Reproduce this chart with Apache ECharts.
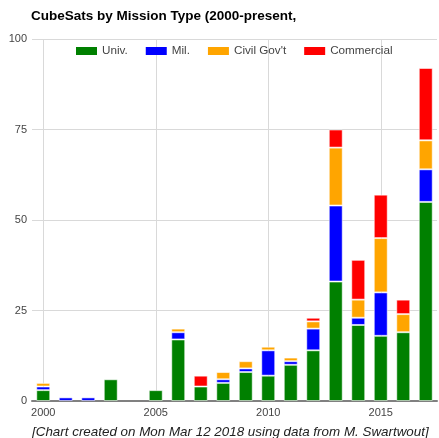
<!DOCTYPE html>
<html>
<head>
<meta charset="utf-8">
<script src="https://cdn.jsdelivr.net/npm/echarts@6/dist/echarts.min.js"></script>
<style>
html,body{margin:0;padding:0;background:#fff;}
#chart{width:439px;height:438px;}
</style>
</head>
<body>
<div id="chart"></div>
<script>
const years = ['2000','2001','2002','2003','2004','2005','2006','2007','2008','2009','2010','2011','2012','2013','2014','2015','2016','2017'];
const univ       = [3,0,0,6,0,3,17,4,5,8,7,10,14,33,21,18,19,55];
const mil        = [1,1,1,0,0,0,2,0,1,1,7,1,6,21,2,12,0,9];
const civilGov   = [1,0,0,0,0,0,1,0,2,2,1,1,2,16,5,15,5,8];
const commercial = [0,0,0,0,0,0,0,3,0,0,0,0,1,5,11,12,4,20];
const yTicks = [0,25,50,75,100];
const titleText = 'CubeSats by Mission Type (2000-present,';
const footerText = '[Chart created on Mon Mar 12 2018 using data from M. Swartwout]';

const FONT = 'Liberation Sans, Arial, sans-serif';
const chart = echarts.init(document.getElementById('chart'), null, {renderer:'canvas'});

function mk(name, arr, color){
  return {
    name: name, type: 'bar', stack: 'total',
    barCategoryGap: '38%',
    data: arr.map(v => v === 0 ? null : v),
    itemStyle: {color: color, borderColor: 'rgba(255,255,255,0.55)', borderWidth: 1},
    emphasis: {disabled: true}
  };
}

chart.setOption({
  animation: false,
  textStyle: {fontFamily: FONT},
  title: [
    {text: titleText, left: 31, top: 9.5, padding: 0,
     textStyle: {fontSize: 13.5, fontWeight: 'bold', color: '#000', fontFamily: FONT}},
    {text: footerText, left: 32, top: 426, padding: 0,
     textStyle: {fontSize: 13.4, fontStyle: 'italic', fontWeight: 'normal', color: '#222', fontFamily: FONT}}
  ],
  legend: {
    left: 76, top: 45, padding: 0,
    icon: 'rect', itemWidth: 21, itemHeight: 8, itemGap: 18,
    itemStyle: {borderWidth: 0},
    textStyle: {fontSize: 11.7, color: '#444', fontFamily: FONT}
  },
  grid: {left: 32, right: 2, top: 39, bottom: 37},
  xAxis: {
    type: 'category', data: years, boundaryGap: true,
    axisLine: {show: true, lineStyle: {color: '#808080', width: 2}},
    axisTick: {show: false},
    axisLabel: {interval: 4, color: '#444', fontSize: 11, margin: 6, fontFamily: FONT},
    splitLine: {show: true, interval: 4, alignWithLabel: true, lineStyle: {color: '#d9d9d9', width: 1}}
  },
  yAxis: {
    type: 'value', min: yTicks[0], max: yTicks[yTicks.length-1], interval: 25,
    axisLine: {show: false}, axisTick: {show: false},
    axisLabel: {color: '#444', fontSize: 11, margin: 5, fontFamily: FONT},
    splitLine: {show: true, lineStyle: {color: '#d9d9d9', width: 1}}
  },
  series: [
    mk('Univ.', univ, '#008000'),
    mk('Mil.', mil, '#0000ff'),
    mk("Civil Gov't", civilGov, '#ffa500'),
    mk('Commercial', commercial, '#ff0000')
  ]
});
</script>
</body>
</html>
